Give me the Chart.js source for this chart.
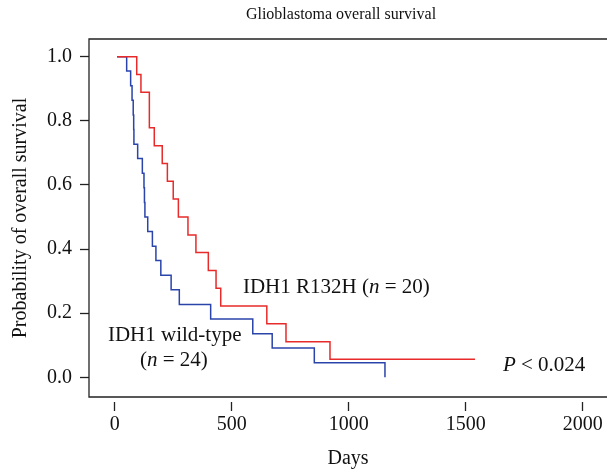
<!DOCTYPE html>
<html>
<head>
<meta charset="utf-8">
<script src="https://cdn.jsdelivr.net/npm/chart.js@4"></script>
<style>
  html, body { margin: 0; padding: 0; background: #fff; overflow: hidden; }
</style>
</head>
<body>
<canvas id="myChart" width="607" height="471"></canvas>
<script>
// Kaplan-Meier steps (days, survival probability)
const r132hDays = [10, 94, 112, 148, 169, 203, 225, 250, 272, 313, 347, 400, 433, 453, 650, 732, 920, 1540];
const r132hSurv = [1, 0.944, 0.889, 0.778, 0.722, 0.667, 0.611, 0.556, 0.5, 0.444, 0.389, 0.333, 0.278, 0.222, 0.167, 0.111, 0.056, 0.056];
const wildDays = [10, 51, 68, 74, 79, 81, 82, 98, 118, 125, 127, 129, 141, 161, 176, 197, 241, 276, 410, 590, 673, 853, 1155];
const wildSurv = [1, 0.955, 0.909, 0.864, 0.818, 0.773, 0.727, 0.682, 0.636, 0.591, 0.545, 0.5, 0.455, 0.409, 0.364, 0.318, 0.273, 0.227, 0.182, 0.136, 0.091, 0.045, 0];
const xTicks = [0, 500, 1000, 1500, 2000];
const yTicks = [0, 0.2, 0.4, 0.6, 0.8, 1.0];

const serif = "'Liberation Serif', 'Times New Roman', serif";
const ink = '#222';

function toPoints(days, surv) {
    return days.map((d, i) => ({ x: d, y: surv[i] }));
}

// text labels, placed in data units
const notes = [
    { x: 548, y: 0.263, parts: [['IDH1 R132H (', false], ['n', true], [' = 20)', false]] },
    { x: -29, y: 0.113, parts: [['IDH1 wild-type', false]] },
    { x: 108, y: 0.035, parts: [['(', false], ['n', true], [' = 24)', false]] },
    { x: 1659, y: 0.020, parts: [['P', true], [' < 0.024', false]] }
];

const boxAndText = {
    id: 'boxAndText',
    afterDraw(chart) {
        const ctx = chart.ctx;
        const a = chart.chartArea;
        const xs = chart.scales.x, ys = chart.scales.y;
        ctx.save();
        // R style box (right side runs off the picture)
        ctx.strokeStyle = ink;
        ctx.lineWidth = 1.3;
        ctx.beginPath();
        ctx.moveTo(chart.width, a.top);
        ctx.lineTo(a.left, a.top);
        ctx.lineTo(a.left, a.bottom);
        ctx.lineTo(chart.width, a.bottom);
        ctx.stroke();

        // title
        ctx.fillStyle = '#111';
        ctx.font = '16px ' + serif;
        ctx.textAlign = 'center';
        ctx.textBaseline = 'middle';
        ctx.fillText('Glioblastoma overall survival', 341, 15);

        // annotations
        ctx.textAlign = 'left';
        ctx.textBaseline = 'alphabetic';
        notes.forEach(n => {
            let px = xs.getPixelForValue(n.x);
            const py = ys.getPixelForValue(n.y);
            n.parts.forEach(([txt, it]) => {
                ctx.font = (it ? 'italic ' : '') + '21px ' + serif;
                ctx.fillText(txt, px, py);
                px += ctx.measureText(txt).width;
            });
        });
        ctx.restore();
    }
};

const ctx = document.getElementById('myChart').getContext('2d');
const myChart = new Chart(ctx, {
    type: 'line',
    data: {
        datasets: [{
            label: 'IDH1 R132H',
            data: toPoints(r132hDays, r132hSurv),
            borderColor: 'rgb(232, 42, 42)',
            borderWidth: 1.5,
            stepped: true,
            pointRadius: 0,
            fill: false
        }, {
            label: 'IDH1 wild-type',
            data: toPoints(wildDays, wildSurv),
            borderColor: 'rgb(42, 68, 170)',
            borderWidth: 1.5,
            stepped: true,
            pointRadius: 0,
            fill: false
        }]
    },
    options: {
        responsive: false,
        animation: false,
        devicePixelRatio: 1,
        layout: { padding: { top: 39, right: 0, left: 0, bottom: 0 } },
        plugins: {
            legend: { display: false },
            tooltip: { enabled: false }
        },
        scales: {
            x: {
                type: 'linear',
                min: -110,
                max: 2104,
                afterFit: s => { s.height = 74; },
                afterBuildTicks: s => { s.ticks = xTicks.map(v => ({ value: v })); },
                border: { display: false },
                grid: {
                    drawOnChartArea: false,
                    tickLength: 14,
                    tickColor: ink,
                    tickWidth: 1.3,
                    tickBorderDash: [0, 5, 20]
                },
                ticks: {
                    color: '#111',
                    font: { family: serif, size: 20 },
                    padding: 2,
                    maxRotation: 0,
                    callback: v => String(v)
                },
                title: {
                    display: true,
                    text: 'Days',
                    color: '#111',
                    font: { family: serif, size: 20 },
                    padding: { top: 0, bottom: 0 }
                }
            },
            y: {
                min: -0.0615,
                max: 1.055,
                afterFit: s => { s.width = 89; },
                afterBuildTicks: s => { s.ticks = yTicks.map(v => ({ value: v })); },
                border: { display: false },
                grid: {
                    drawOnChartArea: false,
                    tickLength: 9,
                    tickColor: ink,
                    tickWidth: 1.3
                },
                ticks: {
                    color: '#111',
                    font: { family: serif, size: 20 },
                    padding: 8,
                    callback: v => v.toFixed(1)
                },
                title: {
                    display: true,
                    text: 'Probability of overall survival',
                    color: '#111',
                    font: { family: serif, size: 20 },
                    padding: { top: 9, bottom: 0 }
                }
            }
        }
    },
    plugins: [boxAndText]
});
</script>
</body>
</html>
